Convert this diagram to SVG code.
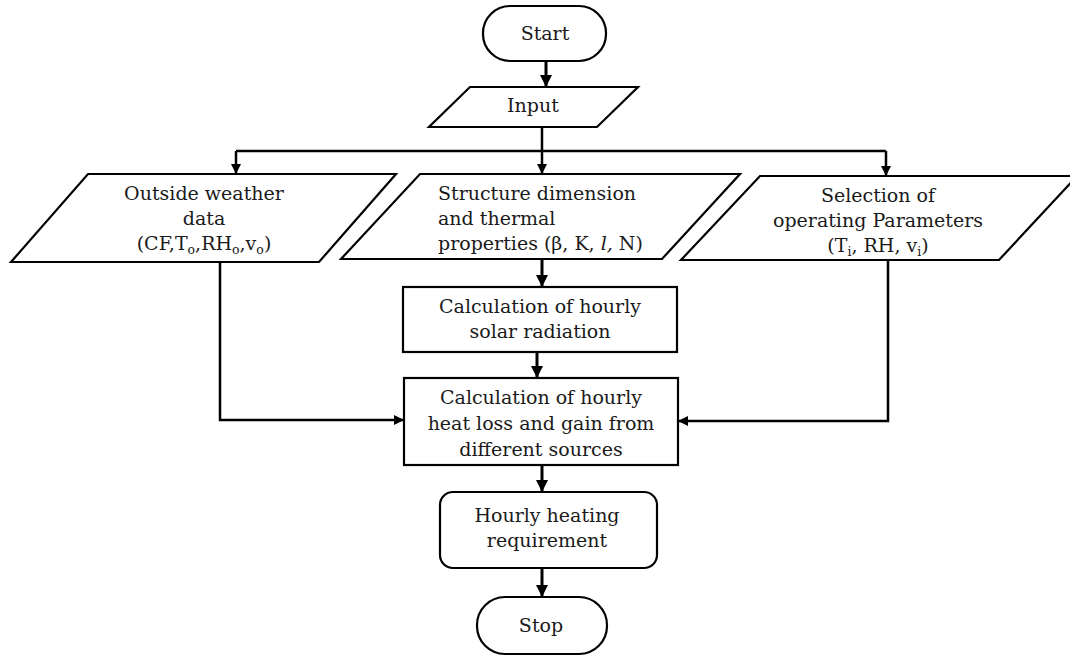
<svg xmlns="http://www.w3.org/2000/svg" width="1070" height="656" viewBox="0 0 1070 656">
<defs>
<style>
.box{fill:#fff;stroke:#000;stroke-width:2.2}
.con{fill:none;stroke:#000;stroke-width:2.5}
.vc{fill:none;stroke:#000;stroke-width:3}
text{font-family:"DejaVu Serif","Liberation Serif",serif;font-size:19px;fill:#1a1a1a}
.c{text-anchor:middle}
.sub{font-size:12.5px}
</style>
<marker id="ah" viewBox="0 0 10 10" refX="10" refY="5" markerWidth="10" markerHeight="10" markerUnits="userSpaceOnUse" orient="auto">
<path d="M0,0 L10,5 L0,10 z" fill="#000"/>
</marker>
<marker id="ahb" viewBox="0 0 10 10" refX="10" refY="5" markerWidth="12" markerHeight="12" markerUnits="userSpaceOnUse" orient="auto">
<path d="M0,0 L10,5 L0,10 z" fill="#000"/>
</marker>
</defs>
<rect width="1070" height="656" fill="#fff"/>
<g id="connectors">
<path class="vc" d="M546,61 V87" marker-end="url(#ahb)"/>
<path class="con" d="M542,127 V151"/>
<path class="con" d="M236,151 H886"/>
<path class="con" d="M236,151 V174" marker-end="url(#ah)"/>
<path class="con" d="M542,151 V174" marker-end="url(#ah)"/>
<path class="con" d="M886,151 V176" marker-end="url(#ah)"/>
<path class="vc" d="M542,259 V287" marker-end="url(#ahb)"/>
<path class="vc" d="M537,352 V378" marker-end="url(#ahb)"/>
<path class="con" d="M220,262 V420 H404" marker-end="url(#ah)"/>
<path class="con" d="M888,260 V421 H678" marker-end="url(#ah)"/>
<path class="vc" d="M542,465 V492" marker-end="url(#ahb)"/>
<path class="vc" d="M542,568 V597" marker-end="url(#ahb)"/>
</g>
<g id="start">
<rect class="box" x="483" y="6" width="123" height="55" rx="27" ry="27"/>
<text class="c" x="545" y="40">Start</text>
</g>
<g id="input">
<polygon class="box" points="470,87 638,87 597,127 429,127"/>
<text class="c" x="533" y="112">Input</text>
</g>
<g id="outside">
<polygon class="box" points="88,174 396,174 319,262 11,262"/>
<text class="c" x="204" y="200">Outside weather</text>
<text class="c" x="204" y="225">data</text>
<text class="c" x="204" y="250">(CF,T<tspan class="sub" dy="4">o</tspan><tspan dy="-4">,RH</tspan><tspan class="sub" dy="4">o</tspan><tspan dy="-4">,v</tspan><tspan class="sub" dy="4">o</tspan><tspan dy="-4">)</tspan></text>
</g>
<g id="structure">
<polygon class="box" points="420,174 740,174 662,259 341,259"/>
<text x="438" y="200">Structure dimension</text>
<text x="438" y="225">and thermal</text>
<text x="438" y="250">properties (β, K, <tspan font-style="italic">l,</tspan> N)</text>
</g>
<g id="selection">
<polygon class="box" points="760,176 1077,176 999,260 681,260"/>
<text class="c" x="878" y="202">Selection of</text>
<text class="c" x="878" y="227">operating Parameters</text>
<text class="c" x="878" y="252">(T<tspan class="sub" dy="4">i</tspan><tspan dy="-4">, RH, v</tspan><tspan class="sub" dy="4">i</tspan><tspan dy="-4">)</tspan></text>
</g>
<g id="calc1">
<rect class="box" x="403" y="287" width="274" height="65"/>
<text class="c" x="540" y="313">Calculation of hourly</text>
<text class="c" x="540" y="338">solar radiation</text>
</g>
<g id="calc2">
<rect class="box" x="404" y="378" width="274" height="87"/>
<text class="c" x="541" y="404">Calculation of hourly</text>
<text class="c" x="541" y="430">heat loss and gain from</text>
<text class="c" x="541" y="456">different sources</text>
</g>
<g id="hourly">
<rect class="box" x="440" y="492" width="217" height="76" rx="13" ry="13"/>
<text class="c" x="547" y="522">Hourly heating</text>
<text class="c" x="547" y="547">requirement</text>
</g>
<g id="stop">
<rect class="box" x="477" y="597" width="130" height="57" rx="28" ry="28"/>
<text class="c" x="541" y="632">Stop</text>
</g>
</svg>
